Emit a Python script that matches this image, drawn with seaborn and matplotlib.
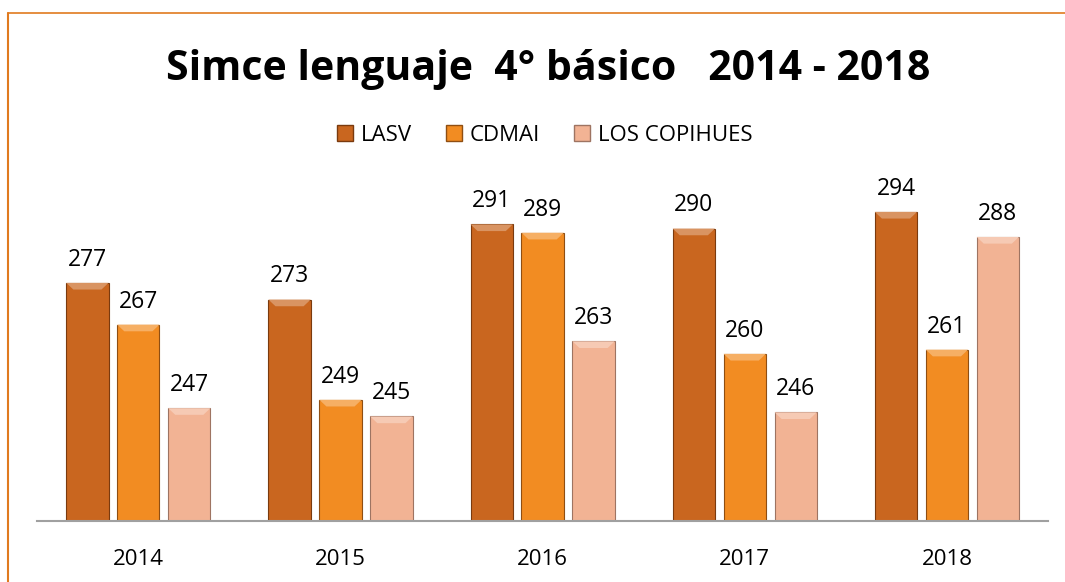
import matplotlib
matplotlib.use("Agg")
import matplotlib.pyplot as plt
import seaborn as sns
import pandas as pd
from matplotlib.patches import Polygon
from matplotlib.lines import Line2D
from matplotlib.colors import to_rgb

# data
years = ["2014", "2015", "2016", "2017", "2018"]
schools = ["LASV", "CDMAI", "LOS COPIHUES"]
lasv = [277, 273, 291, 290, 294]
cdmai = [267, 249, 289, 260, 261]
copihues = [247, 245, 263, 246, 288]

colors = ["#C9661F", "#F28C22", "#F2B394"]
edges = ["#7A3A0E", "#8F4E12", "#9E7462"]

df = pd.DataFrame({
    "year": years * 3,
    "school": [schools[0]] * 5 + [schools[1]] * 5 + [schools[2]] * 5,
    "score": lasv + cdmai + copihues,
})

sns.set_theme(style="white")
plt.rcParams["font.family"] = ["Open Sans", "DejaVu Sans"]
plt.rcParams["text.color"] = "black"
plt.rcParams["xtick.color"] = "black"

fig = plt.figure(figsize=(10.65, 5.82), dpi=100)
ax = fig.add_axes([0.035, 0.105, 0.949, 0.574])

sns.barplot(data=df, x="year", y="score", hue="school", palette=colors,
            width=0.756, gap=0.17, ax=ax, legend=False, saturation=1)

ax.set_ylim(220, 300)
ax.set_xlim(-0.5, 4.5)

# outline + soft bevel highlight on top of each bar
for cont, ec, fc in zip(ax.containers, edges, colors):
    light = tuple(min(1, c + (1 - c) * 0.3) for c in to_rgb(fc))
    for p in cont:
        p.set_edgecolor(ec)
        p.set_linewidth(0.8)
        x0, w = p.get_x(), p.get_width()
        y1 = p.get_y() + p.get_height()
        d = 1.6
        ax.add_patch(Polygon([(x0, y1), (x0 + w, y1), (x0 + w - 0.035, y1 - d),
                              (x0 + 0.035, y1 - d)], closed=True,
                             facecolor=light, edgecolor="none", zorder=3))
    ax.bar_label(cont, padding=8, fontsize=16.5, color="black")

sns.despine(ax=ax, left=True)
ax.spines["bottom"].set_color("#A0A0A0")
ax.spines["bottom"].set_linewidth(1.5)
ax.set_yticks([])
ax.set_xlabel("")
ax.set_ylabel("")
ax.tick_params(axis="x", length=0, pad=20, labelsize=16)

fig.suptitle("Simce lenguaje  4° básico   2014 - 2018", x=0.515, y=0.915,
             fontsize=29.5, fontweight="bold", color="black")

handles = [Line2D([], [], marker="s", linestyle="none", markersize=11,
                  markerfacecolor=c, markeredgecolor=e)
           for c, e in zip(colors, edges)]
fig.legend(handles, schools, loc="center", bbox_to_anchor=(0.511, 0.768),
           ncol=3, frameon=False, fontsize=16, handlelength=0.8,
           handletextpad=0.3, columnspacing=1.5)

# chart frame (orange edge on the left and top)
fig.add_artist(Line2D([0.0075, 0.0075], [0, 0.977], color="#E07A1F", lw=1.5))
fig.add_artist(Line2D([0.0075, 1], [0.977, 0.977], color="#E07A1F", lw=1.2))

fig.savefig("out.png", dpi=100)
